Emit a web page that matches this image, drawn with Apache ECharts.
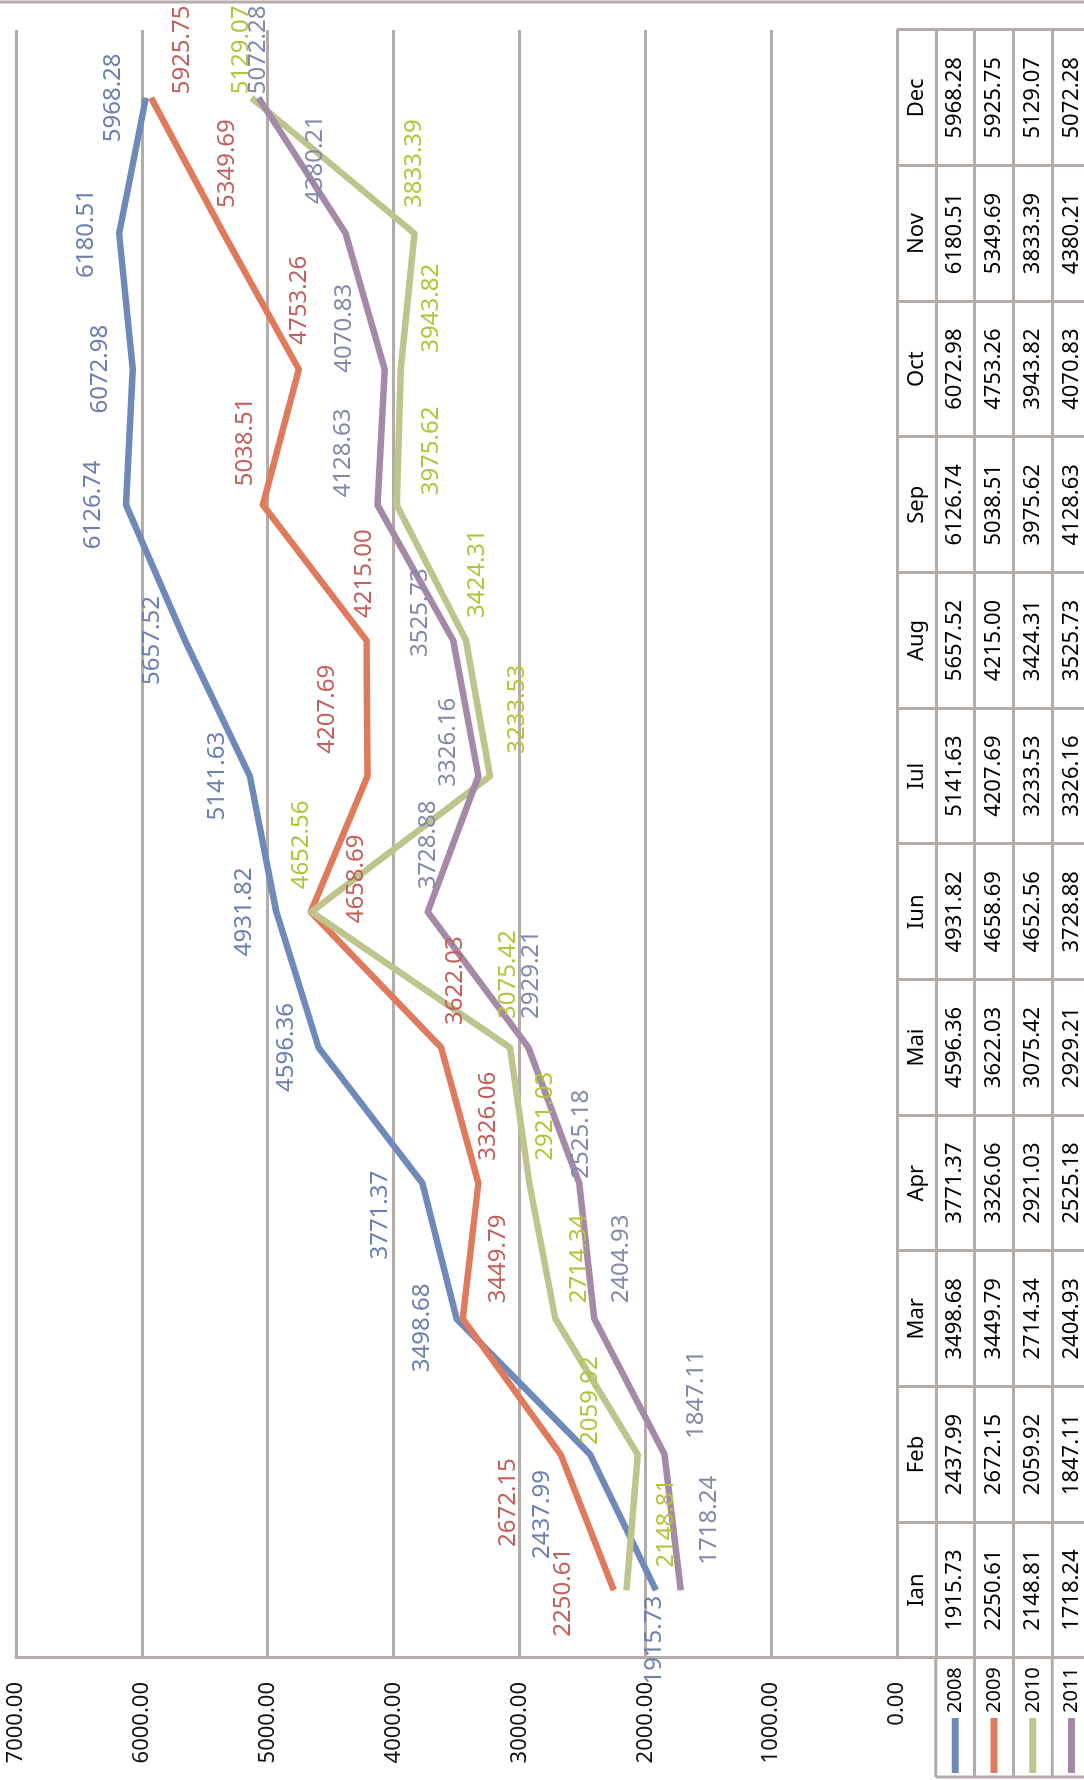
<!DOCTYPE html>
<html><head><meta charset="utf-8">
<script src="https://cdn.jsdelivr.net/npm/echarts@6/dist/echarts.min.js"></script>
<style>
html,body{margin:0;padding:0;background:#fff;overflow:hidden;width:1084px;height:1780px;}
#wrap{position:absolute;left:0;top:0;width:1084px;height:1780px;overflow:hidden;background:#fff;}
#chart{position:absolute;left:0;top:0;width:1780px;height:1084px;transform-origin:0 0;transform:translate(0,1780px) rotate(-90deg);}
</style></head>
<body><div id="wrap"><div id="chart"></div></div>
<script>
// ---- data ----
const categories = ['Ian','Feb','Mar','Apr','Mai','Iun','Iul','Aug','Sep','Oct','Nov','Dec'];
const seriesNames = ['2008','2009','2010','2011'];
const values2008 = [1915.73,2437.99,3498.68,3771.37,4596.36,4931.82,5141.63,5657.52,6126.74,6072.98,6180.51,5968.28];
const values2009 = [2250.61,2672.15,3449.79,3326.06,3622.03,4658.69,4207.69,4215.00,5038.51,4753.26,5349.69,5925.75];
const values2010 = [2148.81,2059.92,2714.34,2921.03,3075.42,4652.56,3233.53,3424.31,3975.62,3943.82,3833.39,5129.07];
const values2011 = [1718.24,1847.11,2404.93,2525.18,2929.21,3728.88,3326.16,3525.73,4128.63,4070.83,4380.21,5072.28];
const valueMin = 0, valueMax = 7000, valueStep = 1000;

// ---- styling / layout ----
const allValues = [values2008, values2009, values2010, values2011];
const lineColors = ['#6f8ab9', '#e07a5c', '#bdc48c', '#a48aa6'];
const labelColors = ['#6b7fb0', '#c4605c', '#b4c43a', '#8489aa'];
// small manual nudges of the data labels (pixels, relative to the default label placement)
const labelNudge = [
  [[-50,31],[-60,-16],[-9,-2],[-32,-10],[0,0],[0,0],[0,0],[0,0],[0,0],[0,0],[0,0],[0,0]],
  [[-69,-51],[-115,-53],[-7,35],[0,10],[0,14],[-34,45],[0,-40],[0,-2],[-4,-18],[2,0],[3,3],[-19,31]],
  [[0,40],[-13,-48],[-7,24],[0,16],[6,-2],[0,-10],[0,27],[0,11],[-13,35],[-6,31],[3,0],[-19,-10]],
  [[3,28],[-7,32],[-7,27],[-18,2],[6,3],[0,0],[-33,-30],[-39,-33],[-15,-34],[-26,-41],[7,-31],[-19,0]]
];
const GRAY = '#b3aca9';
const FONT = '"Noto Sans", "Liberation Sans", sans-serif';
const W = 1780, H = 1084;
const G = {left: 122, right: 30, top: 16, bottom: 187};
const rowH = 38.8;
const tableTop = H - G.bottom;

const chart = echarts.init(document.getElementById('chart'), null, {width: W, height: H});

const tableRows = [null].concat(allValues);
const xAxes = tableRows.map((row, k) => ({
  type: 'category', data: categories, gridIndex: 0, position: 'bottom', offset: k * rowH,
  boundaryGap: true,
  axisLine: {show: true, onZero: false, lineStyle: {color: GRAY, width: 3}},
  axisTick: {show: true, interval: 0, alignWithLabel: false, length: rowH, lineStyle: {color: GRAY, width: 3}},
  axisLabel: {
    show: true, interval: 0, margin: rowH / 2, verticalAlign: 'middle',
    color: '#000', fontSize: 22, fontFamily: FONT,
    formatter: k === 0 ? (v) => v : (v, i) => row[i].toFixed(2)
  },
  splitLine: {show: false}
}));

const graphics = [
  {type: 'line', shape: {x1: W - 2, y1: 0, x2: W - 2, y2: H}, style: {stroke: GRAY, lineWidth: 3}},
  {type: 'line', shape: {x1: 3, y1: tableTop + rowH, x2: 3, y2: tableTop + 5 * rowH}, style: {stroke: GRAY, lineWidth: 3}}
];
for (let k = 1; k <= 5; k++) {
  graphics.push({type: 'line', shape: {x1: 3, y1: tableTop + k * rowH, x2: G.left, y2: tableTop + k * rowH}, style: {stroke: GRAY, lineWidth: 3}});
}

const option = {
  animation: false,
  backgroundColor: '#fff',
  grid: {left: G.left, right: G.right, top: G.top, bottom: G.bottom, containLabel: false},
  xAxis: xAxes,
  yAxis: {
    type: 'value', min: valueMin, max: valueMax, interval: valueStep,
    axisLine: {show: true, lineStyle: {color: GRAY, width: 3}},
    axisTick: {show: false},
    splitLine: {show: true, lineStyle: {color: GRAY, width: 3}},
    axisLabel: {formatter: (v) => v.toFixed(2), margin: 24, fontSize: 22, color: '#111', fontFamily: FONT}
  },
  legend: {
    type: 'plain', orient: 'vertical', left: 7, top: tableTop + rowH, width: 115, height: 4 * rowH + 4,
    padding: 0, itemGap: 0,
    itemWidth: 55, itemHeight: 7, icon: 'rect', selectedMode: false,
    textStyle: {fontSize: 20, color: '#000', fontFamily: FONT, lineHeight: rowH},
    data: seriesNames
  },
  graphic: graphics,
  series: seriesNames.map((name, i) => ({
    name, type: 'line',
    data: allValues[i].map((v, j) => ({value: v, label: {offset: labelNudge[i][j]}})),
    xAxisIndex: 0, yAxisIndex: 0,
    symbol: 'circle', symbolSize: 1, showSymbol: true,
    lineStyle: {width: 6.5, color: lineColors[i], join: 'round'},
    itemStyle: {color: lineColors[i]},
    label: {
      show: true, position: i === 0 ? 'top' : 'right', distance: i === 0 ? 20 : 22,
      color: labelColors[i], fontSize: 24, fontFamily: FONT,
      formatter: (p) => p.value.toFixed(2)
    },
    emphasis: {disabled: true},
    silent: true
  }))
};
chart.setOption(option);
</script>
</body></html>
